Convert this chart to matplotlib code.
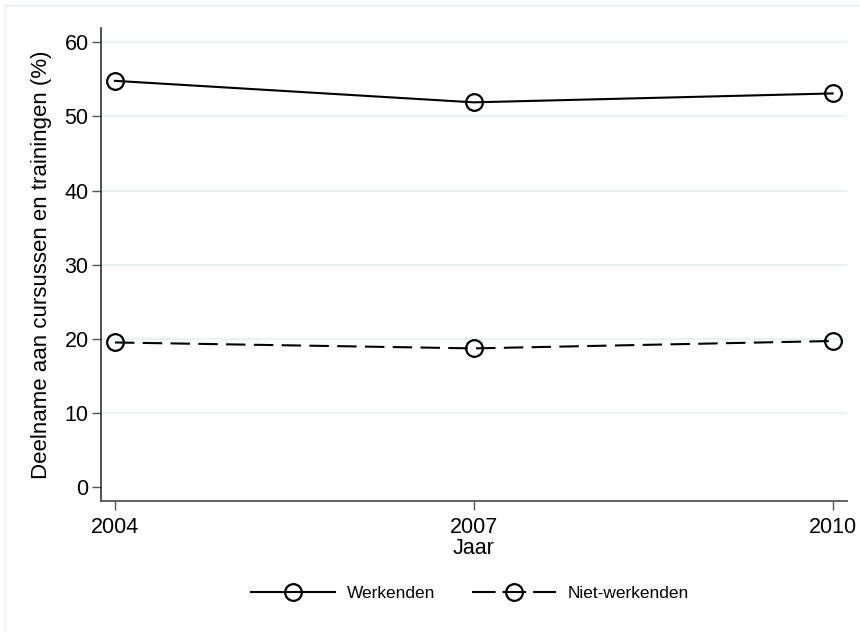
import matplotlib
matplotlib.use("Agg")
import matplotlib.pyplot as plt
from matplotlib.lines import Line2D

plt.rcParams['font.family'] = ['Liberation Sans', 'DejaVu Sans']
plt.rcParams['lines.scale_dashes'] = False

years = [2004, 2007, 2010]
werkenden = [54.8, 51.9, 53.1]
niet_werkenden = [19.5, 18.7, 19.7]
yticks = [0, 10, 20, 30, 40, 50, 60]
series_labels = ["Werkenden", "Niet-werkenden"]
ylabel = "Deelname aan cursussen en trainingen (%)"
xlabel = "Jaar"

W, H = 860, 632
fig = plt.figure(figsize=(W / 100, H / 100), dpi=100)
fig.patch.set_facecolor('white')

left, right, top, bottom = 101, 847, 28, 501
ax = fig.add_axes([left / W, 1 - bottom / H, (right - left) / W, (bottom - top) / H])

for y in yticks[1:]:
    ax.axhline(y, color='#eaf2f3', lw=1.6, zorder=0)

style = dict(color='black', lw=1.5, marker='o', ms=12, mfc='none', mec='black', mew=1.6)
ax.plot(years, werkenden, ls='-', zorder=3, **style)
ax.plot(years, niet_werkenden, ls=(0, (14, 6)), zorder=3, **style)

ax.set_xlim(2003.883, 2010.12)
ax.set_ylim(-1.89, 61.93)
ax.set_xticks(years)
ax.set_xticklabels([str(y) for y in years])
ax.set_yticks(yticks)

for s in ['top', 'right']:
    ax.spines[s].set_visible(False)
ax.spines['left'].set_color('#222222')
ax.spines['bottom'].set_color('#555555')
ax.spines['left'].set_linewidth(1.1)
ax.spines['bottom'].set_linewidth(1.3)

ax.tick_params(axis='both', direction='out', length=6.5, width=1.0, color='#555555',
               labelsize=15.5, labelcolor='black')
ax.tick_params(axis='y', pad=2.5)
ax.tick_params(axis='x', pad=5)

ax.set_ylabel(ylabel, fontsize=16, va='center')
ax.yaxis.set_label_coords((42 - left) / (right - left), 0.5)
ax.set_xlabel(xlabel, fontsize=15.5, va='center')
ax.xaxis.set_label_coords(0.5, (bottom - 548) / (bottom - top))

handles = [Line2D([], [], ls='-', **style),
           Line2D([], [], ls=(0, (17, 5)), **style)]
fig.legend(handles, series_labels, loc='center', bbox_to_anchor=(470 / W, 1 - 593 / H),
           ncol=2, frameon=False, fontsize=12.4, numpoints=1, handlelength=4.9,
           handletextpad=0.7, columnspacing=2.1)

frame_c = '#e4eeee'
fig.add_artist(Line2D([5 / W, 5 / W], [0, 1 - 5 / H], transform=fig.transFigure,
                      color=frame_c, lw=1.0))
fig.add_artist(Line2D([5 / W, 1], [1 - 5 / H, 1 - 5 / H], transform=fig.transFigure,
                      color=frame_c, lw=1.0))

fig.savefig('out.png', dpi=100, facecolor='white')
